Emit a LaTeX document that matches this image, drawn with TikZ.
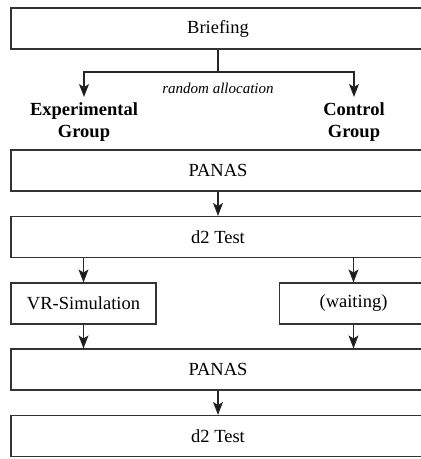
\documentclass[tikz,border=0pt]{standalone}
\usepackage{fontspec}
\setmainfont{Liberation Serif}
\usetikzlibrary{arrows.meta}
\begin{document}
\begin{tikzpicture}[x=1pt,y=-1pt,
  box/.style={draw=black!80, line width=1.1pt, minimum height=41pt, inner sep=0pt, font=\fontsize{18.5}{22}\selectfont},
  arr/.style={draw=black!85, line width=1.1pt, -{Stealth[length=13pt 0 0,width=10pt 0 0,inset=3pt,fill=black!90]}},
  ln/.style={draw=black!85, line width=1.1pt},
  grp/.style={font=\fontsize{18.5}{22}\selectfont\bfseries, align=center, inner xsep=0pt, inner ysep=5.5pt, anchor=north},
  lbl/.style={font=\fontsize{15}{18}\selectfont\itshape, inner sep=0pt}
]
\useasboundingbox (0,0) rectangle (421,459);
\clip (0,0) rectangle (421,459);
\node[box, minimum width=414pt] (brief) at (218,28.5) {Briefing};
\node[box, minimum width=414pt] (panas1) at (218,170.5) {PANAS};
\node[box, minimum width=414pt] (d2a) at (218,237) {d2 Test};
\node[box, minimum width=145pt] (vr) at (83.5,303.5) {VR-Simulation};
\node[box, minimum width=148pt] (wait) at (353.5,303.5) {(waiting)};
\node[box, minimum width=414pt] (panas2) at (218,369.5) {PANAS};
\node[box, minimum width=414pt] (d2b) at (218,436) {d2 Test};
\node[grp] (exp) at (84,97) {Experimental\\Group};
\node[grp] (ctrl) at (354,97) {Control\\Group};
\coordinate (split) at (218,72);
\node[lbl] (ra) at (218,88) {random allocation};
\draw[ln] (brief.south) -- (split);
\draw[arr] (split) -| (exp.north);
\draw[arr] (split) -| (ctrl.north);
\draw[arr] (panas1.south) -- (d2a.north);
\draw[arr] (vr.north |- d2a.south) -- (vr.north);
\draw[arr] (wait.north |- d2a.south) -- (wait.north);
\draw[arr] (vr.south) -- (vr.south |- panas2.north);
\draw[arr] (wait.south) -- (wait.south |- panas2.north);
\draw[arr] (panas2.south) -- (d2b.north);
\end{tikzpicture}
\end{document}
